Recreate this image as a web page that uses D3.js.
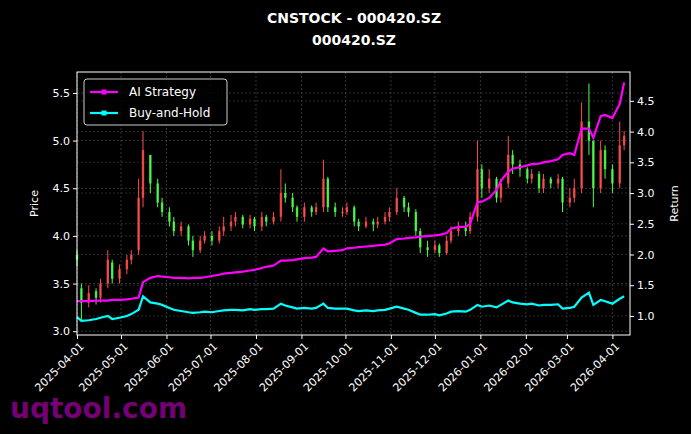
<!DOCTYPE html>
<html><head><meta charset="utf-8">
<script src="https://cdn.jsdelivr.net/npm/d3@7"></script>
<style>
body{margin:0;background:#000;}
text{font-family:"DejaVu Sans",sans-serif;}
</style></head>
<body><svg id="chart" width="691" height="434"></svg>
<script>
// one candle every 3rd trading day starting 2025-04-01
var closes = [3.75,3.30,3.40,3.35,3.50,3.75,3.55,3.65,3.75,3.80,
  4.40,4.90,4.55,4.35,4.25,4.15,4.05,4.10,3.95,3.85,
  3.95,4.00,3.95,4.05,4.10,4.15,4.20,4.12,4.18,4.10,
  4.20,4.15,4.20,4.45,4.40,4.30,4.20,4.30,4.25,4.30,
  4.60,4.30,4.25,4.25,4.30,4.15,4.10,4.15,4.12,4.15,
  4.20,4.25,4.40,4.30,4.25,4.05,3.88,3.85,3.90,3.82,
  3.95,4.05,4.10,4.05,4.20,4.70,4.50,4.60,4.40,4.55,
  4.85,4.75,4.70,4.60,4.65,4.50,4.60,4.55,4.60,4.35,
  4.40,4.50,5.20,5.00,4.50,4.90,4.70,4.55,4.95,5.05];
var opens = [3.80,3.45,3.30,3.42,3.35,3.50,3.72,3.55,3.65,3.75,
  3.85,4.40,4.85,4.55,4.35,4.25,4.15,4.05,4.10,3.95,
  3.85,3.95,4.00,3.95,4.05,4.10,4.15,4.20,4.12,4.18,
  4.10,4.20,4.15,4.20,4.45,4.40,4.30,4.20,4.30,4.25,
  4.30,4.60,4.30,4.25,4.25,4.30,4.15,4.10,4.15,4.12,
  4.15,4.20,4.25,4.40,4.30,4.25,4.05,3.88,3.85,3.90,
  3.82,3.95,4.05,4.10,4.05,4.20,4.70,4.50,4.60,4.40,
  4.55,4.85,4.75,4.70,4.60,4.65,4.50,4.60,4.55,4.60,
  4.35,4.40,4.50,5.20,5.00,4.50,4.90,4.70,4.55,4.95];
var highs = [3.85,3.50,3.48,3.45,3.55,3.85,3.75,3.70,3.80,3.85,
  4.60,5.10,4.85,4.60,4.40,4.30,4.20,4.15,4.12,4.00,
  4.00,4.05,4.05,4.10,4.20,4.22,4.25,4.22,4.22,4.20,
  4.25,4.22,4.25,4.70,4.55,4.45,4.32,4.35,4.32,4.35,
  4.80,4.62,4.35,4.30,4.35,4.32,4.18,4.20,4.18,4.20,
  4.25,4.30,4.50,4.42,4.35,4.28,4.08,3.95,3.95,3.92,
  4.00,4.10,4.15,4.15,4.25,5.00,4.75,4.70,4.62,4.60,
  5.05,4.90,4.80,4.72,4.70,4.68,4.65,4.62,4.65,4.62,
  4.50,4.60,5.40,5.60,5.00,5.00,4.95,4.75,5.20,5.10];
var lows = [3.68,3.10,3.25,3.28,3.30,3.45,3.50,3.50,3.60,3.70,
  3.80,4.30,4.45,4.30,4.20,4.10,4.00,4.00,3.90,3.78,
  3.82,3.92,3.90,3.92,4.00,4.05,4.10,4.08,4.08,4.05,
  4.05,4.10,4.12,4.15,4.35,4.25,4.15,4.15,4.20,4.22,
  4.25,4.25,4.20,4.20,4.22,4.10,4.05,4.08,4.05,4.08,
  4.12,4.15,4.22,4.25,4.20,4.00,3.82,3.78,3.82,3.78,
  3.80,3.92,4.00,4.00,4.02,4.15,4.40,4.45,4.35,4.35,
  4.50,4.65,4.62,4.55,4.55,4.45,4.45,4.50,4.50,4.25,
  4.30,4.35,4.45,4.85,4.30,4.45,4.60,4.45,4.50,4.90];
var aiStrategy = [1.24,1.24,1.24,1.25,1.25,1.25,1.26,1.26,1.27,1.28,
  1.30,1.55,1.62,1.65,1.64,1.63,1.62,1.62,1.61,1.62,
  1.62,1.63,1.65,1.67,1.69,1.70,1.71,1.72,1.74,1.75,
  1.78,1.80,1.82,1.90,1.90,1.91,1.92,1.94,1.95,1.96,
  2.10,2.05,2.06,2.07,2.10,2.11,2.12,2.13,2.14,2.15,
  2.16,2.18,2.25,2.26,2.27,2.28,2.29,2.30,2.31,2.32,
  2.35,2.42,2.45,2.45,2.50,2.85,2.86,2.92,3.05,3.20,
  3.35,3.40,3.42,3.45,3.47,3.48,3.50,3.52,3.55,3.62,
  3.65,3.62,4.05,4.05,3.90,4.25,4.27,4.22,4.45,4.80];
var buyHold = [0.98,0.92,0.93,0.95,0.97,1.00,0.95,0.97,1.00,1.03,
  1.10,1.32,1.22,1.20,1.18,1.13,1.10,1.08,1.06,1.05,
  1.06,1.07,1.06,1.08,1.09,1.10,1.10,1.09,1.11,1.10,
  1.11,1.11,1.12,1.20,1.17,1.14,1.12,1.13,1.12,1.13,
  1.20,1.13,1.12,1.12,1.12,1.09,1.08,1.09,1.08,1.09,
  1.10,1.12,1.15,1.12,1.10,1.05,1.02,1.02,1.03,1.01,
  1.04,1.07,1.08,1.07,1.10,1.18,1.15,1.17,1.14,1.18,
  1.25,1.22,1.20,1.19,1.20,1.17,1.18,1.18,1.19,1.12,
  1.13,1.15,1.30,1.38,1.18,1.26,1.24,1.20,1.28,1.32];
var priceTicks = [3.0,3.5,4.0,4.5,5.0,5.5];
var returnTicks = [1.0,1.5,2.0,2.5,3.0,3.5,4.0,4.5];

// trading dates: every 3rd weekday
var parse = d3.timeParse("%Y-%m-%d");
var dates = [], d = parse("2025-04-01"), k = 0;
while (dates.length < closes.length) {
  if (d.getDay() != 0 && d.getDay() != 6) { if (k % 3 == 0) dates.push(d); k++; }
  d = d3.timeDay.offset(d, 1);
}

var margin = {left: 77, right: 61, top: 72, bottom: 99};
var W = 691, H = 434, iw = W - margin.left - margin.right, ih = H - margin.top - margin.bottom;
var svg = d3.select("#chart");
svg.append("rect").attr("width", W).attr("height", H).attr("fill", "#000");
var g = svg.append("g").attr("transform", "translate(" + margin.left + "," + margin.top + ")");

var x = d3.scaleTime().domain([parse("2025-04-01"), parse("2026-04-13")]).range([0, iw]);
var y = d3.scaleLinear().domain([2.96, 5.72]).range([ih, 0]);
var y2 = d3.scaleLinear().domain([0.69, 4.97]).range([ih, 0]);
var months = d3.timeMonth.range(parse("2025-04-01"), parse("2026-04-13"));

// grid
g.selectAll(".gx").data(months).enter().append("line")
  .attr("x1", x).attr("x2", x).attr("y1", 0).attr("y2", ih)
  .attr("stroke", "#555").attr("stroke-dasharray", "2,2").attr("stroke-width", 0.6);
g.selectAll(".gy").data(priceTicks).enter().append("line")
  .attr("x1", 0).attr("x2", iw).attr("y1", y).attr("y2", y)
  .attr("stroke", "#555").attr("stroke-dasharray", "2,2").attr("stroke-width", 0.6);
g.selectAll(".gy2").data(returnTicks).enter().append("line")
  .attr("x1", 0).attr("x2", iw).attr("y1", y2).attr("y2", y2)
  .attr("stroke", "#444").attr("stroke-dasharray", "2,2").attr("stroke-width", 0.6);

// candles
var idx = d3.range(closes.length);
g.selectAll(".wick").data(idx).enter().append("line")
  .attr("x1", function(i){ return x(dates[i]); }).attr("x2", function(i){ return x(dates[i]); })
  .attr("y1", function(i){ return y(highs[i]); }).attr("y2", function(i){ return y(lows[i]); })
  .attr("stroke", function(i){ return closes[i] >= opens[i] ? "#ff4d4d" : "#4dff4d"; })
  .attr("stroke-width", 1);
g.selectAll(".body").data(idx).enter().append("rect")
  .attr("x", function(i){ return x(dates[i]) - 1.2; }).attr("width", 2.4)
  .attr("y", function(i){ return y(Math.max(opens[i], closes[i])); })
  .attr("height", function(i){ return Math.max(1, Math.abs(y(opens[i]) - y(closes[i]))); })
  .attr("fill", function(i){ return closes[i] >= opens[i] ? "#ff4d4d" : "#4dff4d"; })
  .attr("opacity", 0.85);

// return lines
var line = function(vals){ return d3.line().x(function(i){ return x(dates[i]); }).y(function(i){ return y2(vals[i]); })(idx); };
g.append("path").attr("d", line(buyHold)).attr("fill", "none").attr("stroke", "#00ffff").attr("stroke-width", 2.2);
g.append("path").attr("d", line(aiStrategy)).attr("fill", "none").attr("stroke", "#ff00ff").attr("stroke-width", 2.2);

// frame + axes
g.append("rect").attr("width", iw).attr("height", ih).attr("fill", "none").attr("stroke", "#fff").attr("stroke-width", 1);
function style(sel){ sel.select(".domain").remove(); sel.selectAll("line").attr("stroke", "#fff");
  sel.selectAll("text").attr("fill", "#fff").style("font-size", "11px"); }
g.append("g").call(d3.axisLeft(y).tickValues(priceTicks).tickFormat(d3.format(".1f")).tickSize(4)).call(style);
g.append("g").attr("transform", "translate(" + iw + ",0)")
  .call(d3.axisRight(y2).tickValues(returnTicks).tickFormat(d3.format(".1f")).tickSize(4)).call(style);
var xa = g.append("g").attr("transform", "translate(0," + ih + ")")
  .call(d3.axisBottom(x).tickValues(months).tickFormat(d3.timeFormat("%Y-%m-%d")).tickSize(4)).call(style);
xa.selectAll("text").attr("text-anchor", "end").attr("dx", "-0.3em").attr("dy", "0.6em")
  .attr("transform", "rotate(-45)");

svg.append("text").attr("transform", "translate(38," + (margin.top + ih / 2) + ") rotate(-90)")
  .attr("text-anchor", "middle").attr("fill", "#fff").style("font-size", "11px").text("Price");
svg.append("text").attr("transform", "translate(678," + (margin.top + ih / 2) + ") rotate(-90)")
  .attr("text-anchor", "middle").attr("fill", "#fff").style("font-size", "11px").text("Return");

svg.append("text").attr("x", 354).attr("y", 23).attr("text-anchor", "middle").attr("fill", "#fff")
  .style("font-size", "14px").style("font-weight", "bold").text("CNSTOCK - 000420.SZ");
svg.append("text").attr("x", 354).attr("y", 45).attr("text-anchor", "middle").attr("fill", "#fff")
  .style("font-size", "14px").style("font-weight", "bold").text("000420.SZ");

// legend
var leg = g.append("g").attr("transform", "translate(7,7)");
leg.append("rect").attr("width", 143).attr("height", 46).attr("rx", 3)
  .attr("fill", "#000").attr("fill-opacity", 0.8).attr("stroke", "#ccc");
[["AI Strategy", "#ff00ff"], ["Buy-and-Hold", "#00ffff"]].forEach(function(s, i){
  var yy = 13 + i * 21;
  leg.append("line").attr("x1", 6).attr("x2", 34).attr("y1", yy).attr("y2", yy).attr("stroke", s[1]).attr("stroke-width", 2.2);
  leg.append("rect").attr("x", 17.5).attr("y", yy - 2.5).attr("width", 5).attr("height", 5).attr("fill", s[1]);
  leg.append("text").attr("x", 45).attr("y", yy + 4).attr("fill", "#fff").style("font-size", "12px").text(s[0]);
});

svg.append("text").attr("x", 10).attr("y", 418).attr("fill", "#8b008b").attr("fill-opacity", 0.85)
  .style("font-size", "28px").style("font-weight", "bold").text("uqtool.com");
</script></body></html>
